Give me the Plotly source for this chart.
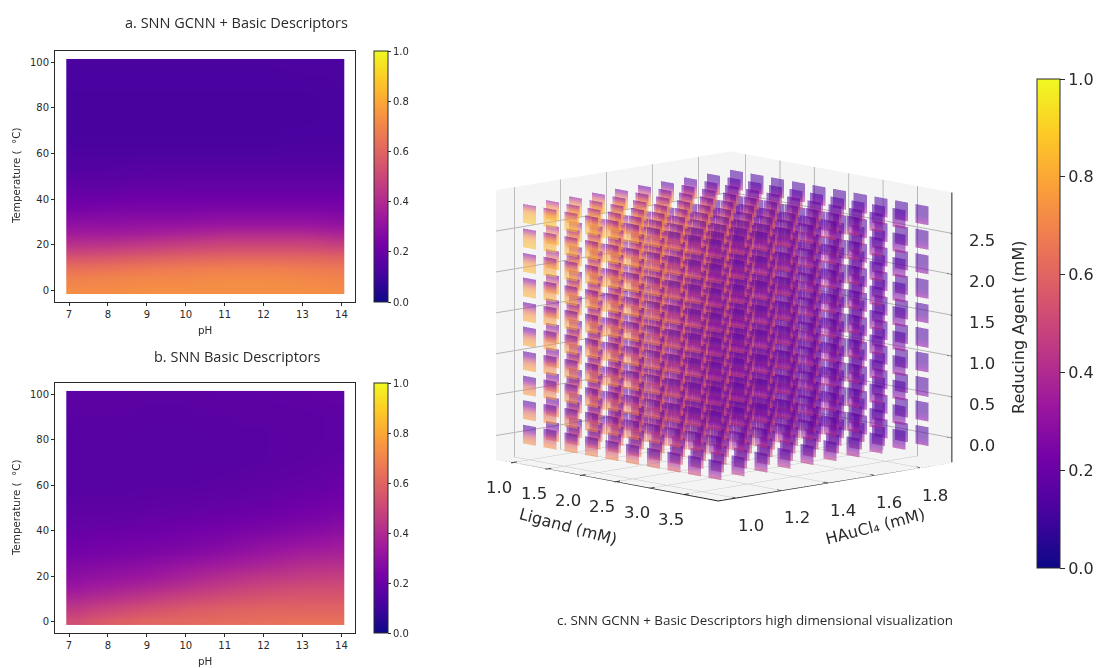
import plotly.graph_objects as go

W, H = 1099, 668

ph_ticks = [7, 8, 9, 10, 11, 12, 13, 14]
temp_ticks = [0, 20, 40, 60, 80, 100]
ph_edges = [6.93, 7.5, 8.5, 9.5, 10.5, 11.5, 12.5, 13.5, 14.07]
temp_edges = [-1.5, 2.5, 7.5, 12.5, 17.5, 22.5, 27.5, 32.5, 37.5, 42.5, 47.5, 52.5, 57.5, 62.5, 67.5, 72.5, 77.5, 82.5, 87.5, 92.5, 97.5, 101.5]

panel_a = [
    [.72, .72, .73, .73, .73, .73, .73, .72],
    [.69, .70, .71, .71, .72, .72, .71, .70],
    [.63, .64, .66, .67, .68, .68, .67, .66],
    [.54, .55, .57, .59, .60, .60, .60, .59],
    [.43, .44, .46, .48, .50, .50, .50, .48],
    [.35, .35, .36, .38, .40, .40, .40, .38],
    [.29, .29, .30, .30, .31, .31, .31, .30],
    [.24, .25, .25, .25, .26, .26, .26, .25],
    [.21, .21, .22, .22, .22, .22, .22, .22],
    [.18, .18, .19, .19, .19, .19, .19, .19],
    [.16, .16, .165, .17, .17, .17, .17, .17],
    [.14, .145, .15, .15, .15, .15, .15, .15],
    [.13, .13, .13, .13, .13, .13, .135, .135],
    [.12, .12, .12, .12, .12, .12, .125, .125],
    [.115, .115, .115, .115, .115, .115, .12, .12],
    [.115, .115, .115, .115, .115, .115, .115, .12],
    [.115, .115, .115, .115, .115, .115, .115, .12],
    [.115, .115, .115, .115, .115, .115, .115, .12],
    [.12, .12, .12, .12, .12, .12, .12, .125],
    [.12, .12, .12, .12, .12, .12, .125, .125],
    [.125, .125, .125, .125, .125, .125, .13, .13],
]
panel_b = [
    [.52, .57, .60, .61, .62, .63, .64, .64],
    [.46, .50, .54, .57, .59, .60, .60, .60],
    [.39, .42, .46, .50, .53, .55, .56, .56],
    [.33, .36, .39, .43, .47, .50, .52, .52],
    [.29, .31, .33, .37, .41, .44, .46, .47],
    [.26, .27, .29, .32, .35, .38, .41, .42],
    [.23, .24, .25, .27, .30, .33, .36, .37],
    [.21, .22, .23, .24, .26, .29, .31, .33],
    [.19, .20, .205, .22, .235, .25, .27, .29],
    [.18, .18, .19, .20, .21, .225, .24, .26],
    [.17, .17, .175, .18, .19, .20, .22, .235],
    [.16, .16, .165, .17, .175, .185, .20, .215],
    [.155, .155, .16, .16, .165, .175, .185, .20],
    [.155, .155, .155, .155, .16, .17, .175, .19],
    [.155, .155, .155, .155, .155, .16, .17, .18],
    [.155, .155, .155, .155, .155, .16, .165, .175],
    [.155, .155, .155, .155, .155, .16, .165, .17],
    [.16, .16, .155, .155, .16, .16, .165, .17],
    [.16, .16, .16, .16, .16, .165, .165, .17],
    [.165, .165, .16, .16, .165, .165, .17, .175],
    [.17, .17, .165, .165, .17, .17, .175, .18],
]

ligand_values = [1.0, 1.3, 1.6, 1.9, 2.2, 2.5, 2.8, 3.1, 3.4, 3.7]
haucl4_values = [1.0, 1.1, 1.2, 1.3, 1.4, 1.5, 1.6, 1.7, 1.8, 1.9]
reducing_values = [0.0, 0.3, 0.6, 0.9, 1.2, 1.5, 1.8, 2.1, 2.4, 2.7]

ligand_heat = [1.0, .98, .96, .92, .86, .76, .62, .46, .3, .18]
haucl4_heat = [1.0, .98, .96, .93, .88, .8, .66, .48, .28, .1]
reducing_heat = [.55, .6, .65, .7, .75, .8, .85, .9, .95, 1.0]
stack_hot = [.87, .87, .85, .83, .78, .68, .5, .33]
stack_cool = [.15, .15, .14, .13, .13, .13, .13, .14]
stack_power = [.35, .45, .6, .9, 1.6, 3.0, 5.0, 8.0]
square_half_width = 0.095
square_half_height = 0.115

ticks_colorbar = [0, .2, .4, .6, .8, 1.0]
ligand_ticks = [1.0, 1.5, 2.0, 2.5, 3.0, 3.5]
haucl4_ticks = [1.0, 1.2, 1.4, 1.6, 1.8]
reducing_ticks = [0.0, 0.5, 1.0, 1.5, 2.0, 2.5]
xlim = [0.78, 4.0]
ylim = [0.92, 1.94]
zlim = [-0.3, 3.0]

INK = "#2a2a2a"
DJ = "DejaVu Sans"
OS = "Open Sans"


def fx(p):
    return p / W


def fy(p):
    return 1 - p / H


def colorbar(x0, x1, y0, y1, size, tlen):
    return dict(
        x=fx(x0), xanchor="left", xpad=0, ypad=0,
        y=fy(y0), yanchor="top", len=(y1 - y0) / H, lenmode="fraction",
        thickness=x1 - x0, thicknessmode="pixels",
        tickmode="array", tickvals=ticks_colorbar,
        ticktext=[f"{t:.1f}" for t in ticks_colorbar],
        ticks="outside", ticklen=tlen, tickcolor=INK, outlinecolor=INK, outlinewidth=1,
        tickfont=dict(family=DJ, size=size, color=INK),
    )


fig = go.Figure()

for idx, (table, py0, py1) in enumerate([(panel_a, 51, 302), (panel_b, 383, 633)]):
    fig.add_trace(go.Heatmap(
        x=ph_edges, y=temp_edges, z=table, zmin=0, zmax=1, colorscale="Plasma",
        zsmooth="best", hoverinfo="skip", xaxis="x" if idx == 0 else "x2", yaxis="y" if idx == 0 else "y2",
        colorbar=colorbar(374, 387.5, py0, py1, 10, 3),
    ))
    xname = "xaxis" if idx == 0 else "xaxis2"
    yname = "yaxis" if idx == 0 else "yaxis2"
    axis = dict(showgrid=False, zeroline=False, mirror=True, showline=True, linecolor=INK, linewidth=1,
                ticks="outside", ticklen=3, tickcolor=INK, tickfont=dict(family=DJ, size=10, color=INK))
    fig.update_layout({
        xname: dict(axis, domain=[fx(55), fx(355)], range=[6.64, 14.35], tickvals=ph_ticks,
                    anchor="y" if idx == 0 else "y2"),
        yname: dict(axis, domain=[fy(py1), fy(py0)], range=[-5.1, 105], tickvals=temp_ticks,
                    anchor="x" if idx == 0 else "x2"),
    })

# 3-D stack of squares: one mesh, built from the tables above
vx, vy, vz, vi, fi, fj, fk = [], [], [], [], [], [], []
nrows = len(stack_hot)
for i, lig in enumerate(ligand_values):
    for j, hau in enumerate(haucl4_values):
        for k, red in enumerate(reducing_values):
            heat = ligand_heat[i] * haucl4_heat[j] * reducing_heat[k]
            base = len(vx)
            for r in range(nrows):
                zz = red - square_half_height + 2 * square_half_height * r / (nrows - 1)
                val = stack_cool[r] + (stack_hot[r] - stack_cool[r]) * heat ** stack_power[r]
                for side in (-1, 1):
                    vx.append(lig + side * square_half_width)
                    vy.append(hau)
                    vz.append(zz)
                    vi.append(val)
            for r in range(nrows - 1):
                a = base + 2 * r
                fi += [a, a + 1]
                fj += [a + 1, a + 3]
                fk += [a + 2, a + 2]

fig.add_trace(go.Mesh3d(
    x=vx, y=vy, z=vz, i=fi, j=fj, k=fk, intensity=vi, cmin=0, cmax=1, colorscale="Plasma",
    opacity=0.55, flatshading=False, hoverinfo="skip", scene="scene",
    lighting=dict(ambient=1, diffuse=0, specular=0, roughness=1, fresnel=0),
    colorbar=colorbar(1037, 1060, 79, 568, 16, 5),
))

# axis lines on the three outer box edges, with ticks pointing into the box
edge = dict(color="#222222", width=2)
inset_y = 0.004
inset_x = 0.012
seg_x = [xlim[0], xlim[1] - inset_x]
seg_y = [ylim[0] + inset_y, ylim[0] + inset_y]
seg_z = [zlim[0], zlim[0]]
fig.add_trace(go.Scatter3d(x=seg_x, y=seg_y, z=seg_z, mode="lines", line=edge, hoverinfo="skip",
                           showlegend=False, scene="scene"))
frame_x = [xlim[1], xlim[1], None, xlim[1], xlim[1], None]
frame_y = [ylim[0], ylim[1], None, ylim[1], ylim[1], None]
frame_z = [zlim[0], zlim[0], None, zlim[0], zlim[1], None]
for t in ligand_ticks:
    frame_x += [t, t, None]
    frame_y += [ylim[0], ylim[0] + 0.025, None]
    frame_z += [zlim[0], zlim[0], None]
for t in haucl4_ticks:
    frame_x += [xlim[1], xlim[1] - 0.07, None]
    frame_y += [t, t, None]
    frame_z += [zlim[0], zlim[0], None]
for t in reducing_ticks:
    frame_x += [xlim[1], xlim[1] - 0.07, None]
    frame_y += [ylim[1], ylim[1], None]
    frame_z += [t, t, None]
fig.add_trace(go.Scatter3d(x=frame_x, y=frame_y, z=frame_z, mode="lines", hoverinfo="skip",
                           line=edge, showlegend=False, scene="scene"))

ax3 = dict(showbackground=True, backgroundcolor="#f4f4f4", gridcolor="#b5b5b5", gridwidth=2,
           showline=False, zeroline=False, showspikes=False, ticks="", showticklabels=False, title=dict(text=""))
tick_font = dict(family=DJ, size=16.5, color=INK)
scene_notes = []
for t in ligand_ticks:
    scene_notes.append(dict(x=t, y=ylim[0], z=zlim[0], text=f"{t:.1f}", showarrow=False, xshift=-12, yshift=-25, font=tick_font))
for t in haucl4_ticks:
    scene_notes.append(dict(x=xlim[1], y=t, z=zlim[0], text=f"{t:.1f}", showarrow=False, xshift=15, yshift=-28, font=tick_font))
for t in reducing_ticks:
    scene_notes.append(dict(x=xlim[1], y=ylim[1], z=t, text=f"{t:.1f}", showarrow=False, xshift=30, yshift=-8, font=tick_font))

title_font = dict(family=DJ, size=16, color=INK)
small_title = dict(family=DJ, size=10.3, color=INK)
temp_label = "Temperature (\u00a0\u00a0°C)"
fig.update_layout(
    width=W, height=H, margin=dict(l=0, r=0, t=0, b=0), paper_bgcolor="white", plot_bgcolor="white",
    showlegend=False,
    scene=dict(
        domain=dict(x=[fx(430), fx(1018)], y=[fy(656.5), fy(11.5)]),
        aspectmode="manual", aspectratio=dict(x=1, y=1, z=0.85),
        camera=dict(eye=dict(x=2.15, y=-2.03, z=0.5), center=dict(x=0, y=0, z=-0.026), up=dict(x=0, y=0, z=1),
                    projection=dict(type="orthographic")),
        xaxis=dict(ax3, range=xlim, tickvals=ligand_ticks),
        yaxis=dict(ax3, range=ylim, tickvals=haucl4_ticks),
        zaxis=dict(ax3, range=zlim, tickvals=reducing_ticks),
        annotations=scene_notes,
    ),
    annotations=[
        dict(text=text, x=fx(px), y=fy(py), xref="paper", yref="paper", xanchor="center", yanchor="middle",
             showarrow=False, textangle=angle, font=font)
        for text, px, py, angle, font in [
            ("a. SNN GCNN + Basic Descriptors", 236, 23, 0, dict(family=OS, size=14.5, color=INK)),
            ("b. SNN Basic Descriptors", 237, 356, 0, dict(family=OS, size=14.5, color=INK)),
            ("c. SNN GCNN + Basic Descriptors high dimensional visualization", 755, 620, 0, dict(family=OS, size=13.4, color=INK)),
            ("pH", 205, 330, 0, small_title),
            ("pH", 205, 661, 0, small_title),
            (temp_label, 16, 176, -90, small_title),
            (temp_label, 16, 508, -90, small_title),
            ("Ligand (mM)", 568, 526, 15, title_font),
            ("HAuCl₄ (mM)", 875, 526, -14.5, title_font),
            ("Reducing Agent (mM)", 1018, 328, -90, title_font),
        ]
    ],
)

fig.write_html("out.html", config=dict(displayModeBar=False),
               post_script="document.body.style.margin='0';")
